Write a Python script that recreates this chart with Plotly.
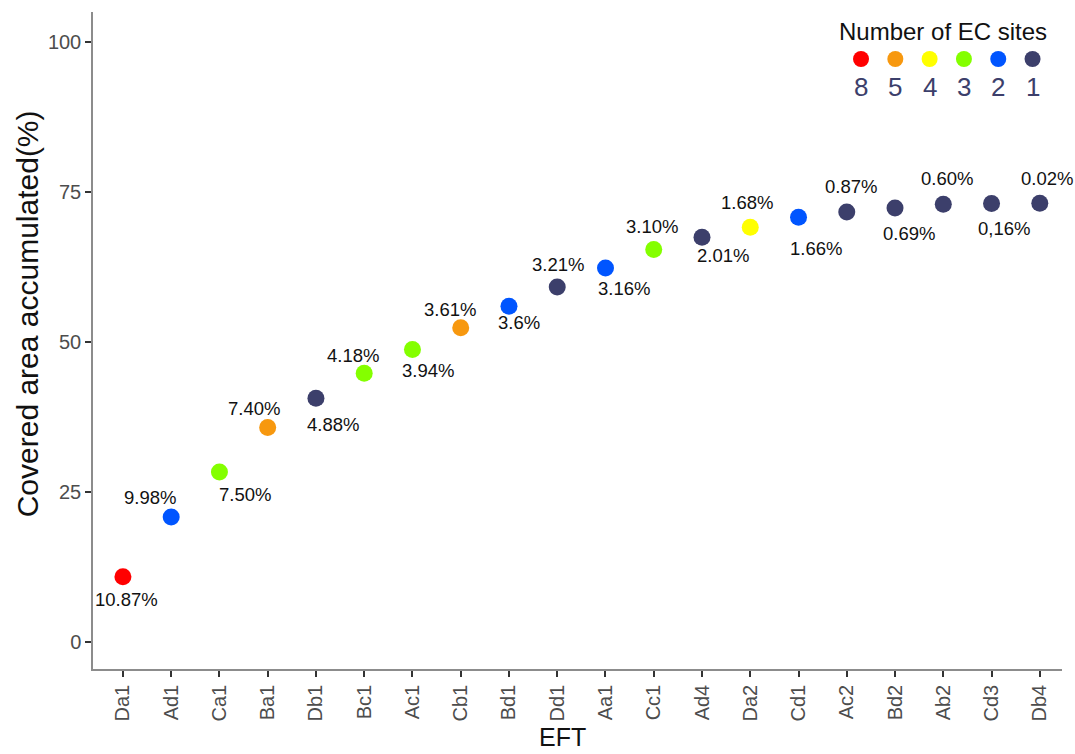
import plotly.graph_objects as go

# Ecological functional types, ordered by contribution
eft = ["Da1", "Ad1", "Ca1", "Ba1", "Db1", "Bc1", "Ac1", "Cb1", "Bd1", "Dd1",
       "Aa1", "Cc1", "Ad4", "Da2", "Cd1", "Ac2", "Bd2", "Ab2", "Cd3", "Db4"]
# Accumulated covered area (%)
covered_acc = [10.87, 20.85, 28.35, 35.75, 40.63, 44.81, 48.75, 52.36, 55.96, 59.17,
               62.33, 65.43, 67.44, 69.12, 70.78, 71.65, 72.34, 72.94, 73.10, 73.12]
# Area added by each EFT
area_labels = ["10.87%", "9.98%", "7.50%", "7.40%", "4.88%", "4.18%", "3.94%", "3.61%",
               "3.6%", "3.21%", "3.16%", "3.10%", "2.01%", "1.68%", "1.66%", "0.87%",
               "0.69%", "0.60%", "0,16%", "0.02%"]
# Number of EC sites per EFT
ec_sites = [8, 2, 3, 5, 1, 3, 3, 5, 2, 1, 2, 3, 1, 4, 2, 1, 1, 1, 1, 1]

site_levels = [8, 5, 4, 3, 2, 1]
site_colors = {8: "#FF0000", 5: "#F7980F", 4: "#FFFF00", 3: "#84FF00", 2: "#0055FF", 1: "#3C3F6B"}

# label offsets in pixels (dx, dy) so text sits beside each point
label_offsets = [(4, -23), (-21, 19), (26, -23), (-14, 19), (17, -26), (-11, 18),
                 (16, -21), (-11, 18), (10, -16), (1, 22), (19, -20), (-2, 23),
                 (21, -18), (-3, 25), (17, -31), (4, 26), (14, -26), (4, 26),
                 (12, -25), (7, 25)]

fig = go.Figure()

fig.add_trace(go.Scatter(
    x=eft, y=covered_acc, mode="markers",
    marker=dict(size=17, color=[site_colors[n] for n in ec_sites], line=dict(width=0)),
    showlegend=False, hoverinfo="x+y",
))

for name, val, txt, (dx, dy) in zip(eft, covered_acc, area_labels, label_offsets):
    fig.add_annotation(x=name, y=val, xref="x", yref="y", text=txt, showarrow=False,
                       xshift=dx, yshift=dy,
                       font=dict(family="Liberation Sans, Arial", size=18.5, color="#111111"))

# legend keys drawn on an overlay axis spanning the panel
legend_x0, legend_dx = 0.7926, 0.0354
legend_xs = [legend_x0 + i * legend_dx for i in range(len(site_levels))]
legend_y = 0.9285
fig.add_trace(go.Scatter(
    x=legend_xs, y=[legend_y] * len(site_levels), mode="markers",
    marker=dict(size=16, color=[site_colors[n] for n in site_levels], line=dict(width=0)),
    xaxis="x2", yaxis="y2", showlegend=False, hoverinfo="skip",
))
for lx, n in zip(legend_xs, site_levels):
    fig.add_annotation(x=lx, y=0.886, xref="paper", yref="paper", text=str(n),
                       showarrow=False, xanchor="center", yanchor="middle",
                       font=dict(family="Liberation Sans, Arial", size=26, color="#3C3F6B"))
fig.add_annotation(x=0.8772, y=0.9696, xref="paper", yref="paper", text="Number of EC sites",
                   showarrow=False, xanchor="center", yanchor="middle",
                   font=dict(family="Liberation Sans, Arial", size=24, color="#111111"))

# axis titles
fig.add_annotation(x=-0.068, y=0.540, xref="paper", yref="paper",
                   text="Covered area accumulated(%)", textangle=-90, showarrow=False,
                   xanchor="center", yanchor="middle",
                   font=dict(family="Liberation Sans, Arial", size=30, color="#111111"))
fig.add_annotation(x=0.485, y=-0.1279, xref="paper", yref="paper", text="EFT",
                   showarrow=False, xanchor="center", yanchor="bottom",
                   font=dict(family="Liberation Sans, Arial", size=25, color="#111111"))

axis_font = dict(family="Liberation Sans, Arial", size=20, color="#4D4D4D")
fig.update_layout(
    width=1075, height=754,
    margin=dict(l=93, r=13, t=12, b=85),
    paper_bgcolor="white", plot_bgcolor="white",
    xaxis=dict(
        range=[-0.62, 19.46], type="category", categoryorder="array", categoryarray=eft,
        showgrid=False, zeroline=False, showline=True, linecolor="#8C8C8C", linewidth=1.5,
        ticks="outside", ticklen=6, tickwidth=1.5, tickcolor="#333333",
        tickangle=-90, tickfont=axis_font,
    ),
    yaxis=dict(
        range=[-4.5, 105], tickvals=[0, 25, 50, 75, 100],
        showgrid=False, zeroline=False, showline=True, linecolor="#8C8C8C", linewidth=1.5,
        ticks="outside", ticklen=6, tickwidth=1.5, tickcolor="#333333",
        tickfont=axis_font,
    ),
    xaxis2=dict(range=[0, 1], overlaying="x", visible=False, domain=[0, 1]),
    yaxis2=dict(range=[0, 1], overlaying="y", visible=False, domain=[0, 1]),
)

fig.write_html("out.html")
